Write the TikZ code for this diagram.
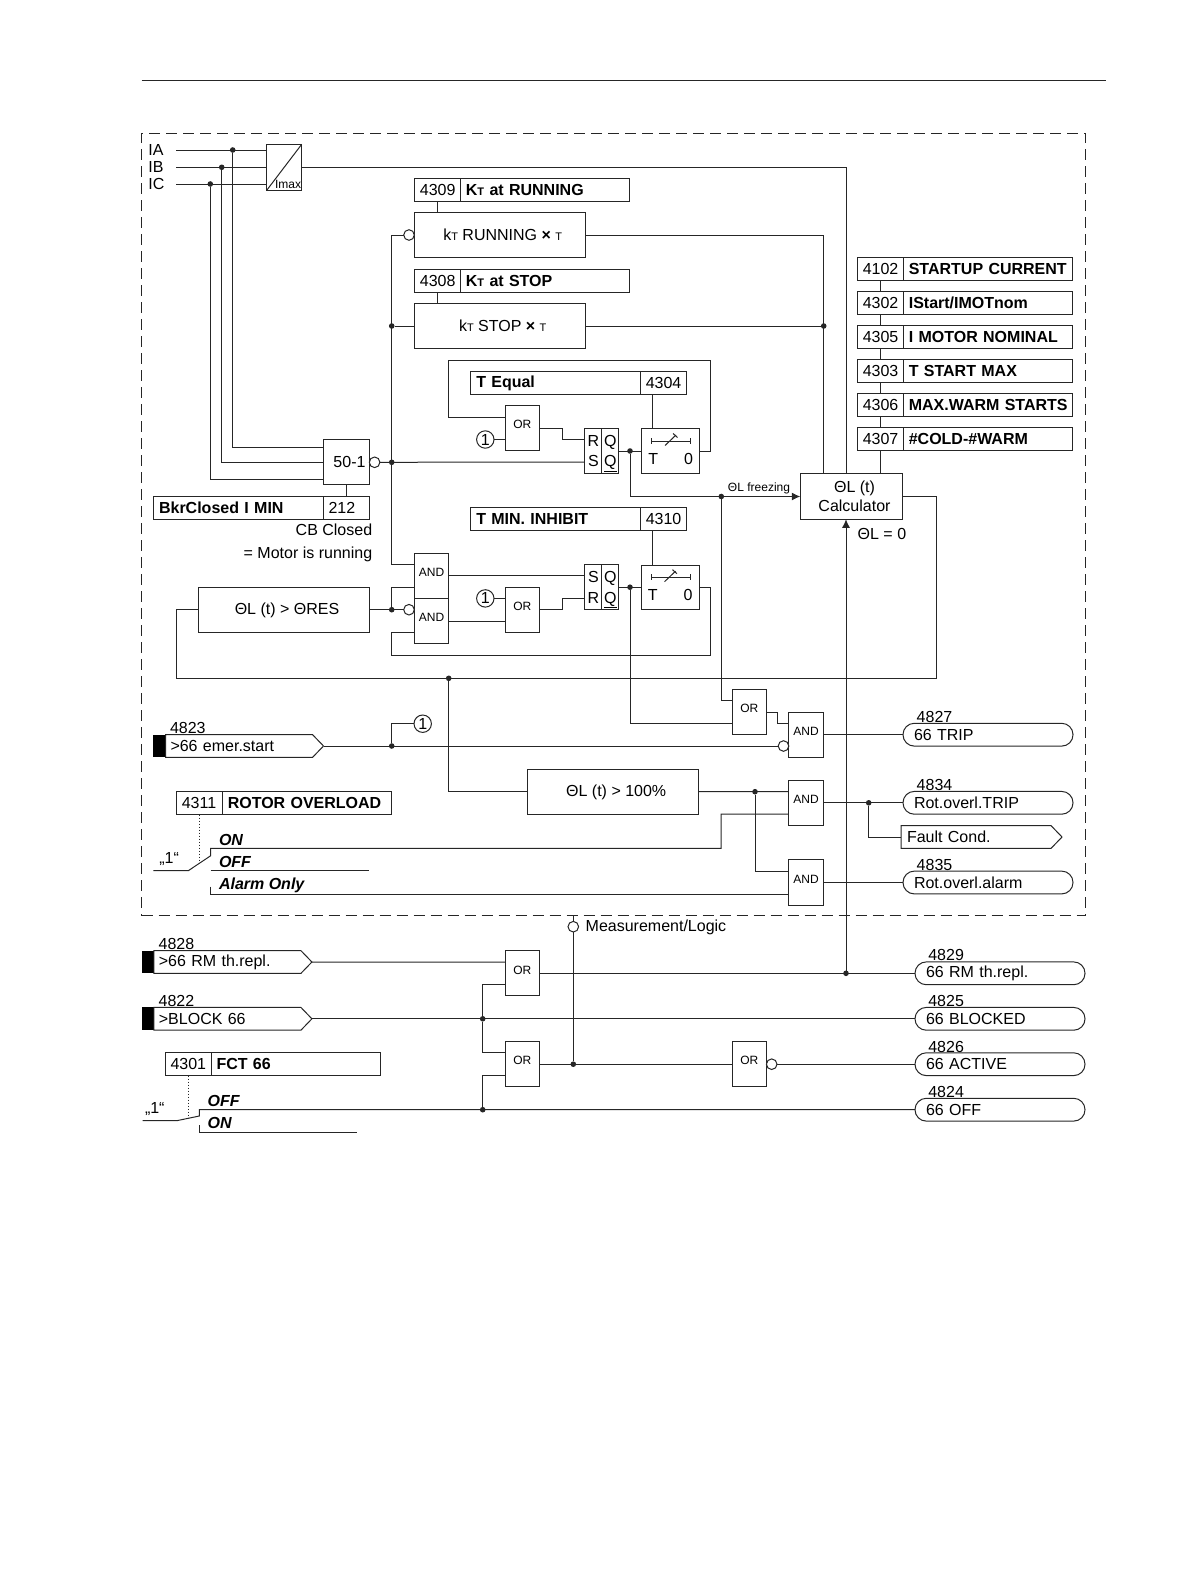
\documentclass[tikz,border=0pt]{standalone}
\usepackage{fontspec}
\setmainfont{Liberation Sans}
\usetikzlibrary{shapes,arrows,arrows.meta,positioning}

\newcommand{\mainfs}{\fontsize{16}{20}\selectfont}
\newcommand{\smallfs}{\fontsize{12}{14}\selectfont}
\newcommand{\lowt}{{\fontsize{11}{11}\selectfont T}}

\tikzstyle{every node} = [font=\mainfs, outer sep=0, text=black]
\tikzstyle{block} = [rectangle, draw, inner sep=0, text centered, minimum width=170.7pt, minimum height=45.4pt, execute at begin node={\hspace*{6pt}}]
\tikzstyle{gate} = [rectangle, draw, inner sep=0, text centered, minimum width=34.2pt, minimum height=45.3pt, text depth=7pt, font=\smallfs]
\tikzstyle{numbox} = [rectangle, draw, inner ysep=0, inner xsep=5.5pt, text width=35pt, align=left, minimum height=23pt]
\tikzstyle{namebox} = [rectangle, draw, inner ysep=0, inner xsep=5.5pt, text width=158.5pt, align=left, minimum height=23pt, font=\mainfs\bfseries]
\tikzstyle{rscell} = [rectangle, draw, inner sep=0, minimum width=17pt, minimum height=44.6pt, align=center, font=\fontsize{16}{20.5}\selectfont]
\tikzstyle{timer} = [rectangle, draw, inner sep=0, minimum width=58.3pt, minimum height=44.4pt, text height=27pt]
\tikzstyle{dot} = [circle, fill, inner sep=0, minimum size=5.6pt]
\tikzstyle{neg} = [circle, draw, fill=white, inner sep=0, minimum size=10.6pt]
\tikzstyle{one} = [circle, draw, inner sep=0, minimum size=17.4pt]
\tikzstyle{intag} = [signal, signal to=east, signal pointer angle=92, draw, inner ysep=0, inner xsep=5pt, text width=137pt, align=left, minimum height=22.8pt]
\tikzstyle{inbar} = [rectangle, fill=black, inner sep=0, minimum width=12.2pt, minimum height=22.8pt]
\tikzstyle{outtag} = [rectangle, draw, rounded corners=11.3pt, inner ysep=0, inner xsep=11pt, text width=148pt, align=left, minimum height=22.8pt]
\tikzstyle{tagnum} = [anchor=west, inner sep=0]
\tikzstyle{word} = [anchor=west, inner sep=0]
\tikzstyle{swword} = [anchor=west, inner sep=0, font=\mainfs\bfseries\itshape]
\tikzstyle{frame} = [rectangle, draw, dash pattern=on 11pt off 6pt, inner sep=0, minimum width=943.7pt, minimum height=782.7pt]
\tikzstyle{line} = [draw]
\tikzstyle{arrow} = [draw, -{Latex[length=8.5pt,width=8pt]}]
\tikzstyle{link} = [draw, dotted]

\newcommand{\contact}[2]{%
  \draw (#1-19.5,#2) -- (#1+19.5,#2);
  \draw (#1-19.5,#2-3) -- (#1-19.5,#2+3);
  \draw (#1+19.5,#2-3) -- (#1+19.5,#2+3);
  \draw (#1-6,#2+4.5) -- (#1+5,#2-6);
  \draw (#1+2,#2-7.5) -- (#1+6.5,#2-3.5);
}

\begin{document}
\begin{tikzpicture}[x=1pt,y=-1pt,line width=1pt,color=black!85]
\useasboundingbox (0,0) rectangle (1191,1587);

\draw (141.7,80) -- (1105.7,80);
\node [frame] (frame) at (613.5,524.6) {};

% current inputs
\node [word] (la) at (148.3,150) {IA};
\node [word] (lb) at (148.3,167) {IB};
\node [word] (lc) at (148.3,184) {IC};
\coordinate (ia) at (176,150);
\coordinate (ib) at (176,167.3);
\coordinate (ic) at (176,184);
\node [rectangle, draw, inner sep=0, minimum width=35pt, minimum height=46pt] (imax) at (284.2,167.3) {};
\node [word, font=\smallfs] (limax) at (275,184) {Imax};
\path [line] (imax.south west) -- (imax.north east);
\node [dot] (da) at (232.7,150) {};
\node [dot] (db) at (221.7,167.3) {};
\node [dot] (dc) at (210.3,184) {};
\path [line] (ia) -- (ia -| imax.west);
\path [line] (ib) -- (ib -| imax.west);
\path [line] (ic) -- (ic -| imax.west);

% factor blocks
\node [numbox] (p4309) at (437.4,190) {4309};
\node [namebox, right=0pt of p4309] (n4309) {K\lowt{} at RUNNING};
\node [block] (krun) at (499.7,235) {k\lowt{} RUNNING {\bfseries ×} \lowt};
\node [numbox] (p4308) at (437.4,281) {4308};
\node [namebox, right=0pt of p4308] (n4308) {K\lowt{} at STOP};
\node [block] (kstop) at (499.7,326) {k\lowt{} STOP {\bfseries ×} \lowt};
\node [neg] (negrun) at (409,235) {};
\node [dot] (dstop) at (391.7,326) {};
\path [line] (p4309.south) -- (p4309.south |- krun.north);
\path [line] (p4308.south) -- (p4308.south |- kstop.north);

% T equal
\node [namebox] (n4304) at (555.5,383) {T Equal};
\node [numbox, right=0pt of n4304] (p4304) {4304};
\node [gate] (or1) at (522.3,428.3) {OR};
\node [one] (one1) at (485.3,439.5) {1};
\node [rscell] (rsl1) at (593.4,451) {R\\S};
\node [rscell, right=0pt of rsl1] (rsr1) {Q\\\smash{\underline{Q}}};
\node [timer] (t1) at (670.8,451) {T\hspace{26pt}0};
\contact{671}{441}
\coordinate (fb1) at (710,360);
\coordinate (fb2) at (448.7,360);
\path [line] (t1.east) -| (fb1) -- (fb2) |- ([yshift=11.25pt]or1.west);
\path [line] ([xshift=-11pt]p4304.south) -- ([xshift=-11pt]p4304.south |- t1.north);
\path [line] (one1.east) -- (one1 -| or1.west);
\path [line] (or1.east) -- ++(23.4,0) |- ([yshift=11.25pt]rsl1.west);
\node [dot] (dq1) at (630,451) {};
\path [line] (rsr1.east) -- (t1.west);

% 50-1
\node [rectangle, draw, inner sep=0, minimum width=45.6pt, minimum height=45.3pt, execute at begin node={\hspace*{6pt}}] (lim) at (346.5,462.3) {50-1};
\node [neg] (neglim) at (374.6,462.3) {};
\node [dot] (dlim) at (391.7,462.3) {};
\node [namebox] (n212) at (238.3,507.7) {BkrClosed I MIN};
\node [numbox, right=0pt of n212] (p212) {212};
\node [anchor=east, inner sep=0] (lcb) at (372.2,529.7) {CB Closed};
\node [anchor=east, inner sep=0] (lmot) at (372.2,554.2) {= Motor is running};
\path [line] (da) |- ([yshift=15pt]lim.west);
\path [line] (db) |- (lim.west);
\path [line] (dc) |- ([yshift=-17.4pt]lim.west);
\path [line] (lim.south) -- (p212.north -| lim.south);
\path [line] (neglim.east) -- ([yshift=-11pt]rsl1.west);

% T min. inhibit
\node [namebox] (n4310) at (555.5,519) {T MIN. INHIBIT};
\node [numbox, right=0pt of n4310] (p4310) {4310};
\node [gate] (and1) at (431.5,575.8) {AND};
\node [gate] (and2) at (431.5,621.3) {AND};
\node [gate] (or2) at (522.3,609.7) {OR};
\node [one] (one2) at (485.3,598.4) {1};
\node [rscell] (rsl2) at (593.4,587.2) {S\\R};
\node [rscell, right=0pt of rsl2] (rsr2) {Q\\\smash{\underline{Q}}};
\node [timer] (t2) at (670.2,587.2) {T\hspace{26pt}0};
\contact{670.5}{577.2}
\node [block, text height=13.5pt] (res) at (284,609.7) {ΘL (t) > ΘRES};
\node [dot] (dres) at (391.7,609.7) {};
\node [neg] (negand) at (409,609.7) {};
\node [dot] (dq2) at (630,587.2) {};
\coordinate (fb3) at (391.7,655.3);
\coordinate (fb4) at (710,655.3);
\path [line] (negrun.west) -| (dlim);
\path [line] (dlim) |- ([yshift=11.25pt]and1.west);
\path [line] (dstop) -- (kstop.west);
\path [line] (dres) |- ([yshift=-11.25pt]and1.west);
\path [line] (res.east) -- (negand.west);
\path [line] ([yshift=-11.25pt]and2.west) -| (fb3) -- (fb4) |- (t2.east);
\path [line] (and1.east) -- (and1.east -| rsl2.west);
\path [line] (and2.east) -- (and2.east -| or2.west);
\path [line] (one2.east) -- (one2 -| or2.west);
\path [line] (or2.east) -- ++(23.4,0) |- ([yshift=-11.25pt]rsl2.west);
\path [line] (rsr2.east) -- (t2.west);
\path [line] ([xshift=-11pt]p4310.south) -- ([xshift=-11pt]p4310.south |- t2.north);

% thermal calculator and its settings
\node [rectangle, draw, inner sep=0, minimum width=102.4pt, minimum height=45.6pt, align=center, font=\fontsize{16}{19.5}\selectfont] (calc) at (851.5,496.5) {\hspace*{6pt}ΘL (t)\\\hspace*{6pt}Calculator};
\node [numbox] (p4102) at (880.3,269) {4102};
\node [namebox, right=0pt of p4102] (n4102) {STARTUP CURRENT};
\node [numbox] (p4302) at (880.3,303) {4302};
\node [namebox, right=0pt of p4302] (n4302) {IStart/IMOTnom};
\node [numbox] (p4305) at (880.3,337) {4305};
\node [namebox, right=0pt of p4305] (n4305) {I MOTOR NOMINAL};
\node [numbox] (p4303) at (880.3,371) {4303};
\node [namebox, right=0pt of p4303] (n4303) {T START MAX};
\node [numbox] (p4306) at (880.3,405) {4306};
\node [namebox, right=0pt of p4306] (n4306) {\mbox{MAX.WARM STARTS}};
\node [numbox] (p4307) at (880.3,439) {4307};
\node [namebox, right=0pt of p4307] (n4307) {\#COLD-\#WARM};
\node [word] (lzero) at (857.7,534) {ΘL = 0};
\node [font=\smallfs, inner sep=0] (lfreeze) at (759,488.3) {ΘL freezing};
\node [dot] (dk) at (823.7,326) {};
\node [dot] (dfreeze) at (721.3,496.5) {};
\path [line] (p4102.south) -- (p4302.north);
\path [line] (p4302.south) -- (p4305.north);
\path [line] (p4305.south) -- (p4303.north);
\path [line] (p4303.south) -- (p4306.north);
\path [line] (p4306.south) -- (p4307.north);
\path [line] (p4307.south) -- (p4307.south |- calc.north);
\path [line] (imax.east) -| ([xshift=-5.5pt]calc.north);
\path [line] (krun.east) -| ([xshift=-27.8pt]calc.north);
\path [line] (kstop.east) -- (dk);
\path [line] (dq1) |- (dfreeze);
\path [arrow] (dfreeze) -- (calc.west);

% trip logic
\coordinate (lp1) at (176.3,678.3);
\coordinate (lp2) at (936.7,678.3);
\node [dot] (dloop) at (448.7,678.3) {};
\path [line] (res.west) -| (lp1) -- (lp2) |- (calc.east);
\node [gate] (or3) at (749.3,712) {OR};
\node [gate] (and3) at (806,734.7) {AND};
\node [neg] (negtrip) at (783.5,746) {};
\node [outtag] (o4827) at (988,734.7) {66 TRIP};
\node [tagnum] (t4827) at (916.7,716.7) {4827};
\node [inbar] (bar4823) at (159.4,746) {};
\node [intag, right=0pt of bar4823] (i4823) {>66 emer.start};
\node [tagnum] (t4823) at (170,728.3) {4823};
\node [dot] (demer) at (391.7,746) {};
\node [one] (one3) at (422.7,723.7) {1};
\path [line] (dfreeze) |- ([yshift=11.25pt]or3.west);
\path [line] (dq2) |- ([yshift=-11.25pt]or3.west);
\path [line] (or3.east) -- ++(11.4,0) |- ([yshift=11.25pt]and3.west);
\path [line] (i4823.east) -- (negtrip.west);
\path [line] (demer) |- (one3.west);
\path [line] (and3.east) -- (o4827.west);

% rotor overload
\node [block, text height=12.5pt] (h100) at (613.2,791.7) {ΘL (t) > 100\%};
\node [gate] (and4) at (806,802.8) {AND};
\node [gate] (and5) at (806,882.5) {AND};
\node [dot] (dh) at (755,791.7) {};
\node [dot] (dtrip) at (868.7,802.8) {};
\node [outtag] (o4834) at (988,802.8) {Rot.overl.TRIP};
\node [tagnum] (t4834) at (916.7,785) {4834};
\node [intag, text width=138pt, inner xsep=6pt] (fault) at (976,837) {Fault Cond.};
\node [outtag] (o4835) at (988,882.5) {Rot.overl.alarm};
\node [tagnum] (t4835) at (916.7,864.5) {4835};
\node [numbox] (p4311) at (199.3,803) {4311};
\node [namebox, right=0pt of p4311] (n4311) {ROTOR OVERLOAD};
\node [swword] (son) at (219,840.3) {ON};
\node [swword] (soff) at (219,862) {OFF};
\node [swword] (salarm) at (219,885.3) {Alarm Only};
\node [anchor=west, inner sep=0] (sone) at (159.3,859) {„1“};
\coordinate (sw1) at (153.3,870.7);
\coordinate (sw2) at (188.3,870.7);
\coordinate (sw3) at (210.7,855.7);
\coordinate (swon) at (210.7,848.3);
\coordinate (swbend) at (721,848.3);
\coordinate (swoff) at (210.7,870.7);
\coordinate (swoffe) at (369,870.7);
\coordinate (swal) at (210.7,894);
\coordinate (swald) at (210.7,886.7);
\coordinate (swdot) at (199.3,862.5);
\path [line] (dloop) |- (h100.west);
\path [line] (h100.east) -- ([yshift=11.25pt]and4.west);
\path [line] (dh) |- ([yshift=11.25pt]and5.west);
\path [line] (sw1) -- (sw2) -- (sw3) -- (swon) -- (swbend) |- ([yshift=-11.25pt]and4.west);
\path [line] (swoff) -- (swoffe);
\path [line] (swald) -- (swal) -- (swal -| and5.west);
\path [link] (p4311.south) -- (swdot);
\path [line] (and4.east) -- (o4834.west);
\path [line] (dtrip) |- (fault.west);
\path [line] (and5.east) -- (o4835.west);

% below the frame
\node [neg] (meas) at (573.3,926.7) {};
\node [word] (lmeas) at (585.7,927) {Measurement/Logic};
\node [inbar] (bar4828) at (147.8,962) {};
\node [intag, right=0pt of bar4828] (i4828) {>66 RM th.repl.};
\node [tagnum] (t4828) at (158.7,944.3) {4828};
\node [inbar] (bar4822) at (147.8,1018.8) {};
\node [intag, right=0pt of bar4822] (i4822) {>BLOCK 66};
\node [tagnum] (t4822) at (158.7,1000.7) {4822};
\node [gate] (or4) at (522.3,973.3) {OR};
\node [gate] (or5) at (522.3,1064.2) {OR};
\node [gate] (or6) at (749.3,1064.2) {OR};
\node [neg] (negact) at (771.7,1064.2) {};
\node [outtag] (o4829) at (1000,973.3) {66 RM th.repl.};
\node [tagnum] (t4829) at (928.3,955.3) {4829};
\node [outtag] (o4825) at (1000,1018.8) {66 BLOCKED};
\node [tagnum] (t4825) at (928.3,1001) {4825};
\node [outtag] (o4826) at (1000,1064.2) {66 ACTIVE};
\node [tagnum] (t4826) at (928.3,1046.5) {4826};
\node [outtag] (o4824) at (1000,1109.7) {66 OFF};
\node [tagnum] (t4824) at (928.3,1092) {4824};
\node [numbox] (p4301) at (188,1064) {4301};
\node [namebox, right=0pt of p4301] (n4301) {FCT 66};
\node [swword] (soff2) at (207.7,1101) {OFF};
\node [swword] (son2) at (207.7,1122.7) {ON};
\node [anchor=west, inner sep=0] (sone2) at (145,1109) {„1“};
\node [dot] (drm) at (846,973.3) {};
\node [dot] (dblk) at (482.7,1018.8) {};
\node [dot] (doff) at (482.7,1109.7) {};
\node [dot] (dact) at (573.3,1064.2) {};
\coordinate (vw1) at (142.7,1120.7);
\coordinate (vw2) at (176.7,1120.7);
\coordinate (vw3) at (199.3,1116);
\coordinate (vwon) at (199.3,1109.7);
\coordinate (vwd) at (199.3,1125);
\coordinate (vwu) at (199.3,1132.5);
\coordinate (vwe) at (357.4,1132.5);
\coordinate (vwdot) at (188,1117.5);
\path [line] (meas |- frame.south) -- (meas.north);
\path [line] (meas.south) -- (dact);
\path [line] (i4828.east) -- ([yshift=11.25pt]or4.west);
\path [line] (or4.east) -- (o4829.west);
\path [arrow] (drm) -- ([xshift=-5.5pt]calc.south);
\path [line] (i4822.east) -- (o4825.west);
\path [line] (dblk) |- ([yshift=-11.25pt]or4.west);
\path [line] (dblk) |- ([yshift=11.25pt]or5.west);
\path [line] (doff) |- ([yshift=-11.25pt]or5.west);
\path [line] (or5.east) -- (or6.west);
\path [line] (negact.east) -- (o4826.west);
\path [line] (vw1) -- (vw2) -- (vw3) -- (vwon) -- (o4824.west);
\path [line] (vwd) -- (vwu) -- (vwe);
\path [link] (p4301.south) -- (vwdot);

\end{tikzpicture}
\end{document}
